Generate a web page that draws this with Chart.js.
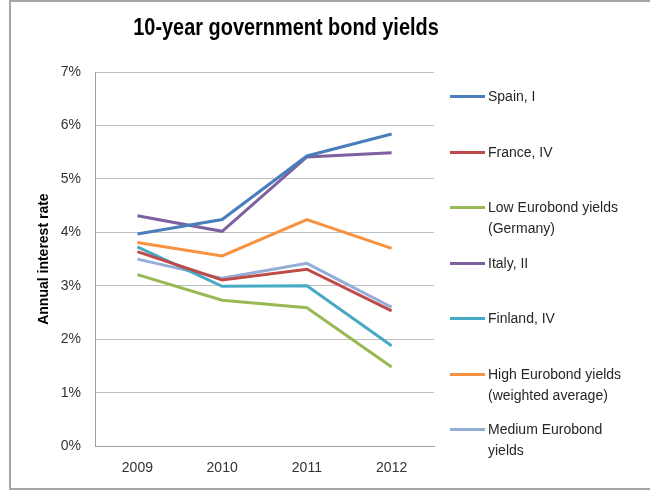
<!DOCTYPE html>
<html>
<head>
<meta charset="utf-8">
<script src="https://cdn.jsdelivr.net/npm/chart.js@4"></script>
<style>
  body { margin: 0; background: #fff; }
  #wrap { position: relative; width: 650px; height: 493px; overflow: hidden; }
  #frame { position: absolute; left: 9px; top: 0px; width: 700px; height: 490px; border: 2px solid #a6a6a6; box-sizing: border-box; }
  #bond-chart { position: absolute; left: 0; top: 0; }
  #title { position: absolute; left: 86px; top: 13px; width: 400px; text-align: center; line-height: 28px;
           font-family: "Liberation Sans", Arial, sans-serif; font-size: 24px; font-weight: bold; color: #000;
           transform: scaleX(0.83); transform-origin: 200px 0; white-space: nowrap; }
  #legend { position: absolute; left: 450px; top: 0; font-family: "Liberation Sans", Arial, sans-serif; font-size: 14px; color: #262626; }
  .item { position: absolute; left: 0; width: 200px; }
  .item .swatch { position: absolute; left: 0; top: 9px; width: 35px; height: 3px; }
  .item .txt { position: absolute; left: 38px; top: 0; line-height: 21px; white-space: nowrap; }
</style>
</head>
<body>
<div id="wrap">
  <div id="frame"></div>
  <canvas id="bond-chart" width="650" height="493"></canvas>
  <div id="title">10-year government bond yields</div>
  <div id="legend"></div>
</div>
<script>
let years = ['2009', '2010', '2011', '2012']

// yields in percent
let spain = [3.97, 4.24, 5.43, 5.84]
let france = [3.64, 3.11, 3.31, 2.53]
let lowEuro = [3.21, 2.73, 2.59, 1.48]
let italy = [4.31, 4.02, 5.41, 5.49]
let finland = [3.73, 2.99, 3.00, 1.88]
let highEuro = [3.81, 3.56, 4.24, 3.70]
let mediumEuro = [3.50, 3.14, 3.42, 2.60]

let seriesNames = [
  ['Spain, I'],
  ['France, IV'],
  ['Low Eurobond yields', '(Germany)'],
  ['Italy, II'],
  ['Finland, IV'],
  ['High Eurobond yields', '(weighted average)'],
  ['Medium Eurobond', 'yields']
]
let seriesData = [spain, france, lowEuro, italy, finland, highEuro, mediumEuro]
let seriesColors = ['#4a7ebb', '#be4b48', '#98b954', '#7d60a0', '#46aac5', '#f69240', '#94acd6']

let yTicks = [0, 1, 2, 3, 4, 5, 6, 7]

let font = '"Liberation Sans", Arial, sans-serif'

let datasets = seriesData.map(function(d, i) {
  return {
    label: seriesNames[i].join(' '),
    data: d,
    borderColor: seriesColors[i],
    backgroundColor: seriesColors[i],
    borderWidth: 3,
    pointRadius: 0,
    tension: 0
  }
})

let chart = new Chart(document.getElementById('bond-chart'), {
  type: 'line',
  data: { labels: years, datasets: datasets },
  options: {
    responsive: false,
    animation: false,
    layout: { padding: { left: 36, right: 216, top: 72, bottom: 2 } },
    plugins: {
      legend: { display: false },
      tooltip: { enabled: false },
      title: { display: false }
    },
    scales: {
      x: {
        offset: true,
        grid: { display: false, drawTicks: false },
        border: { color: '#a0a0a0', width: 1 },
        ticks: { color: '#333', font: { family: font, size: 14 }, padding: 14 }
      },
      y: {
        min: 0,
        max: 7,
        afterBuildTicks: function(axis) { axis.ticks = yTicks.map(function(v) { return { value: v } }) },
        grid: { color: '#bfbfbf', drawTicks: false },
        border: { color: '#a0a0a0', width: 1 },
        ticks: {
          color: '#333',
          font: { family: font, size: 14 },
          padding: 14,
          callback: function(v) { return v + '%' }
        },
        title: {
          display: true,
          text: 'Annual interest rate',
          color: '#000',
          font: { family: font, size: 14, weight: 'bold' },
          padding: { top: 0, bottom: -6 }
        }
      }
    }
  }
})

// legend as html so the two-line labels wrap like the original
let legendBox = document.getElementById('legend')
seriesNames.forEach(function(name, i) {
  let item = document.createElement('div')
  item.className = 'item'
  item.style.top = (86 + i * 55.5) + 'px'
  item.innerHTML = '<div class="swatch" style="background:' + seriesColors[i] + '"></div>' +
    '<div class="txt">' + name.join('<br>') + '</div>'
  legendBox.appendChild(item)
})
</script>
</body>
</html>
